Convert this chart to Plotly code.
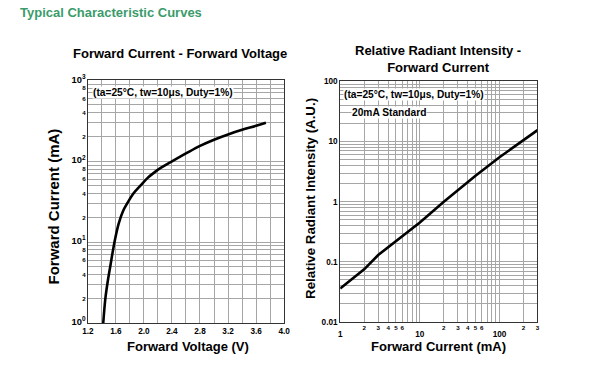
import plotly.graph_objects as go
import numpy as np

# ---- Data: Forward Current vs Forward Voltage ----
vf_volts = [1.42, 1.45, 1.48, 1.52, 1.58, 1.64, 1.70, 1.77, 1.85, 1.95, 2.05, 2.15, 2.25, 2.40, 2.60, 2.80, 3.00, 3.20, 3.40, 3.60, 3.74]
if_ma = [1.0, 2.0, 3.1, 5.0, 10.0, 17.0, 24.0, 31.0, 40.0, 50.0, 62.0, 73.0, 84.0, 100.0, 125.0, 155.0, 185.0, 215.0, 245.0, 275.0, 300.0]

# ---- Data: Relative Radiant Intensity vs Forward Current ----
cur_ma = [1, 2, 3, 5, 10, 20, 50, 100, 200, 300]
rel_int = [0.036, 0.075, 0.13, 0.22, 0.45, 1.0, 2.7, 5.5, 10.8, 15.5]

# ---- Tick labels ----
left_x_major = [1.2, 1.6, 2.0, 2.4, 2.8, 3.2, 3.6, 4.0]
left_x_major_text = ["1.2", "1.6", "2.0", "2.4", "2.8", "3.2", "3.6", "4.0"]
left_x_minor = [1.4, 1.8, 2.2, 2.6, 3.0, 3.4, 3.8]

left_y_major = [1, 2, 4, 6, 8, 10, 20, 40, 60, 80, 100, 200, 400, 600, 800, 1000]
left_y_major_text = ["10<sup>0</sup>", "2", "4", "6", "8", "10<sup>1</sup>", "2", "4", "6", "8",
                     "10<sup>2</sup>", "2", "4", "6", "8", "10<sup>3</sup>"]
left_y_minor = [3, 5, 7, 9, 30, 50, 70, 90, 300, 500, 700, 900]

right_x_labeled = [2, 3, 4, 5, 6, 20, 30, 40, 50, 60, 200, 300]
right_x_labeled_text = ["2", "3", "4", "5", "6", "2", "3", "4", "5", "6", "2", "3"]
right_x_minor = [7, 8, 9, 10, 70, 80, 90, 100]
right_x_decades = [1, 10, 100]
right_x_decades_text = ["1", "10", "100"]

right_y_major = [0.01, 0.1, 1, 10, 100]
right_y_major_text = ["0.01", "0.1", "1", "10", "100"]
right_y_minor = [m * 10.0 ** d for d in range(-2, 2) for m in range(2, 10)]

FONT = "Arial, Liberation Sans, sans-serif"

# page -> photo mapping observed for this viewer (photo = S * page + B)
W, H = 602, 373
SX, BX = 0.9786, 5.3
SY, BY = 0.963, 7.7
def fx(xr):
    return ((xr - BX) / SX) / W
def fy(yr):
    return 1 - ((yr - BY) / SY) / H

fig = go.Figure()
fig.add_trace(go.Scatter(x=vf_volts, y=if_ma, mode="lines",
                         line=dict(color="black", width=2.6, shape="spline"),
                         xaxis="x", yaxis="y", showlegend=False, hoverinfo="skip"))
fig.add_trace(go.Scatter(x=cur_ma, y=rel_int, mode="lines", line=dict(color="black", width=2.6),
                         xaxis="x2", yaxis="y2", showlegend=False, hoverinfo="skip"))
fig.add_trace(go.Scatter(x=[1, 300], y=[0.01, 0.01], mode="lines", line=dict(width=0), opacity=0,
                         xaxis="x3", yaxis="y2", showlegend=False, hoverinfo="skip"))

GRID = "#a6a6a6"
def axis(size, minor_vals, **kw):
    d = dict(showgrid=True, gridcolor=GRID, gridwidth=1, showline=True, linecolor="#333333",
             linewidth=1, mirror=True, ticks="", zeroline=False, tickmode="array",
             tickfont=dict(family=FONT, size=size, color="black", weight="bold"),
             minor=dict(tickmode="array", tickvals=minor_vals, showgrid=True,
                        gridcolor=GRID, gridwidth=1, ticks=""))
    d.update(kw)
    return d

fig.update_layout(
    width=W, height=H,
    margin=dict(l=0, r=0, t=0, b=0),
    paper_bgcolor="white", plot_bgcolor="white",
    font=dict(family=FONT, color="black"),
    xaxis=axis(8.2, left_x_minor, domain=[fx(87), fx(283)], anchor="y", type="linear",
               range=[1.2, 4.0], tickvals=left_x_major, ticktext=left_x_major_text),
    yaxis=axis(6.2, left_y_minor, domain=[fy(322), fy(80)], anchor="x", type="log",
               range=[0, 3], tickvals=left_y_major,
               ticktext=[("<span style='font-size:9.3px'>%s</span>" % t) if "sup" in t else t
                         for t in left_y_major_text]),
    xaxis2=axis(6.2, right_x_minor, domain=[fx(339), fx(536)], anchor="y2", type="log",
                range=[0, np.log10(300)], tickvals=right_x_labeled, ticktext=right_x_labeled_text),
    xaxis3=dict(overlaying="x2", anchor="y2", side="bottom", type="log", range=[0, np.log10(300)],
                tickmode="array", tickvals=right_x_decades, ticktext=right_x_decades_text,
                showgrid=False, showline=False, zeroline=False, ticks="", ticklabelstandoff=6,
                tickfont=dict(family=FONT, size=8.2, color="black", weight="bold")),
    yaxis2=axis(8.2, right_y_minor, domain=[fy(321), fy(81)], anchor="x2", type="log",
                range=[-2, 2], tickvals=right_y_major, ticktext=right_y_major_text),
)

def note(text, xr, yr, size, xanchor="center", angle=0, color="black", bg=None):
    d = dict(text=text, x=fx(xr), y=fy(yr), xref="paper", yref="paper",
             xanchor=xanchor, yanchor="middle", showarrow=False, textangle=angle,
             font=dict(family=FONT, size=size, color=color, weight="bold"))
    if bg:
        d.update(bgcolor=bg, borderpad=0)
    return d

ann = [
    note("Typical Characteristic Curves", 17, 12.5, 13, xanchor="left", color="#3b9b6b"),
    note("Forward Current - Forward Voltage", 179, 53, 13),
    note("Relative Radiant Intensity -<br>Forward Current", 437, 59, 13),
    note("Forward Voltage (V)", 187, 345, 13),
    note("Forward Current (mA)", 437.5, 345, 13),
    note("Forward Current (mA)", 53, 206, 15, angle=-90),
    note("Relative Radiant Intensity (A.U.)", 310, 198, 13.3, angle=-90),
    note("(ta=25°C, tw=10μs, Duty=1%)", 91, 92, 10.2, xanchor="left", bg="white"),
    note("(ta=25°C, tw=10μs, Duty=1%)", 342, 94, 10.2, xanchor="left", bg="white"),
    note("20mA Standard", 350, 112, 10.2, xanchor="left", bg="white"),
]
fig.update_layout(annotations=ann)

fig.write_html("out.html", config={"staticPlot": True, "displayModeBar": False},
               post_script="document.body.style.margin='0px';")
